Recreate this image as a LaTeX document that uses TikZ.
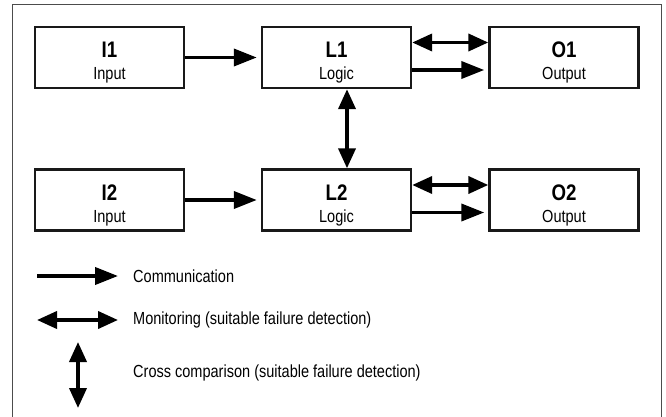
\documentclass[tikz,border=0pt]{standalone}
\usepackage{fontspec}
\setmainfont[FakeStretch=0.83]{Liberation Sans}
\usetikzlibrary{arrows.meta}
\tikzset{
  blk/.style={draw=black!90, line width=2.4pt, minimum width=149pt, minimum height=61pt, inner sep=0pt},
  ttl/.style={font=\fontsize{22.5}{25}\selectfont\bfseries, anchor=base, inner sep=0pt},
  sub/.style={font=\fontsize{17.5}{19}\selectfont, anchor=base, inner sep=0pt},
  lgd/.style={font=\fontsize{17.5}{20}\selectfont, anchor=west, inner sep=0pt},
  com/.style={line width=3.8pt, -{Triangle[length=23pt,width=17pt]}},
  mon/.style={line width=3.8pt, {Triangle[length=20pt,width=17pt]}-{Triangle[length=20pt,width=17pt]}},
  frm/.style={draw=black!70, line width=1pt}
}
\begin{document}
\begin{tikzpicture}[x=1pt,y=-1pt]
\useasboundingbox (0,0) rectangle (666,417);
\draw[frm] (12,417) -- (12,5) -- (661,5) -- (661,417);
% boxes
\node[blk] (I1) at (109.5,57.5) {};
\node[blk] (L1) at (336.5,57.5) {};
\node[blk] (O1) at (564,57.5) {};
\node[blk] (I2) at (109.5,200) {};
\node[blk] (L2) at (336.5,200) {};
\node[blk] (O2) at (564,200) {};
% labels
\foreach \b/\t/\s in {I1/I1/Input, L1/L1/Logic, O1/O1/Output, I2/I2/Input, L2/L2/Logic, O2/O2/Output}{
  \node[ttl] (\b t) at ([yshift=-0.5pt]\b.center) {\t};
  \node[sub] (\b s) at ([yshift=-22.5pt]\b.center) {\s};
}
% connectors
\draw[com, shorten >=4pt] (I1.east) -- (L1.west);
\draw[com, shorten >=4pt] (I2.east) -- (L2.west);
\draw[mon] ([yshift=15pt]L1.east) -- ([yshift=15pt]O1.west);
\draw[mon] ([yshift=15pt]L2.east) -- ([yshift=15pt]O2.west);
\draw[com, shorten >=4pt] ([yshift=-12.5pt]L1.east) -- ([yshift=-12.5pt]O1.west);
\draw[com, shorten >=4pt] ([yshift=-12.5pt]L2.east) -- ([yshift=-12.5pt]O2.west);
\draw[mon] ([xshift=10.5pt]L1.south) -- ([xshift=10.5pt]L2.north);
% legend
\coordinate (c1) at (37,276); \coordinate (c2) at (118,276);
\coordinate (m1) at (37,320); \coordinate (m2) at (118,320);
\coordinate (x1) at (78,342); \coordinate (x2) at (78,408);
\draw[com] (c1) -- (c2);
\draw[mon] (m1) -- (m2);
\draw[mon] (x1) -- (x2);
\node[lgd] (tc) at (133,276) {Communication};
\node[lgd] (tm) at (133,320) {Monitoring (suitable failure detection)};
\node[lgd] (tx) at (133,373) {Cross comparison (suitable failure detection)};
\end{tikzpicture}
\end{document}
